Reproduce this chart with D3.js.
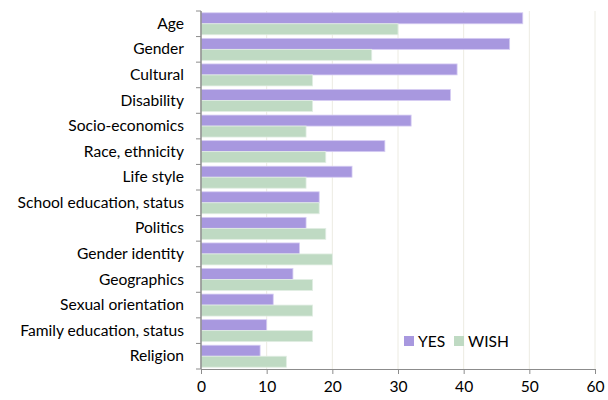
<!DOCTYPE html>
<html lang="en">
<head>
<meta charset="UTF-8">
<title>YES vs WISH</title>
<script src="https://cdnjs.cloudflare.com/ajax/libs/d3/7.8.5/d3.min.js"></script>
<style>
    body { margin: 0; background: #fff; }
    svg { display: block; font-family: Lato, "Open Sans", sans-serif; }
    .tick text { fill: #000; }
</style>
</head>
<body>
<svg id="chart" width="608" height="400"></svg>
<script>
    var categories = ["Age", "Gender", "Cultural", "Disability", "Socio-economics", "Race, ethnicity",
        "Life style", "School education, status", "Politics", "Gender identity", "Geographics",
        "Sexual orientation", "Family education, status", "Religion"];
    var yesValues  = [49, 47, 39, 38, 32, 28, 23, 18, 16, 15, 14, 11, 10, 9];
    var wishValues = [30, 26, 17, 17, 16, 19, 16, 18, 19, 20, 17, 17, 17, 13];
    var seriesNames = ["YES", "WISH"];
    var colors = ["#a898df", "#bfdac3"];
    var xTicks = [0, 10, 20, 30, 40, 50, 60];

    var margin = {left: 201, right: 13, top: 11, bottom: 31};
    var width = 608, height = 400;
    var fontSize = "15.6px";
    var svg = d3.select("#chart");

    var x = d3.scaleLinear().domain([0, 60]).range([margin.left, width - margin.right]);
    var y = d3.scaleBand().domain(categories).range([margin.top, height - margin.bottom]).paddingInner(0.14).paddingOuter(0.07);
    var y1 = d3.scaleBand().domain(seriesNames).range([0, y.bandwidth()]);

    // grid
    svg.append("g").selectAll("line")
        .data(xTicks.slice(1))
        .enter().append("line")
        .attr("x1", d => x(d)).attr("x2", d => x(d))
        .attr("y1", margin.top).attr("y2", height - margin.bottom)
        .attr("stroke", "#ecebe2").attr("stroke-width", 1);

    var rows = categories.map((c, i) => ({cat: c, vals: [yesValues[i], wishValues[i]]}));

    svg.append("g").selectAll("g")
        .data(rows)
        .enter().append("g")
        .attr("transform", d => "translate(0," + y(d.cat) + ")")
        .selectAll("rect")
        .data(d => d.vals.map((v, j) => ({name: seriesNames[j], v: v, j: j})))
        .enter().append("rect")
        .attr("x", x(0))
        .attr("y", d => y1(d.name))
        .attr("width", d => x(d.v) - x(0))
        .attr("height", y1.bandwidth())
        .attr("fill", d => colors[d.j])
        .attr("stroke", d => d.j == 0 ? "#d6cdf3" : "#e2eee4")
        .attr("stroke-width", 0.8);

    // axes
    var yAxis = svg.append("g")
        .attr("transform", "translate(" + x(0) + ",0)")
        .call(d3.axisLeft(y).tickSize(0).tickPadding(17));
    yAxis.select(".domain").remove();
    yAxis.selectAll("text").attr("font-size", fontSize).attr("font-family", "Lato, sans-serif");

    // y tick marks at band boundaries
    var bounds = d3.range(categories.length + 1).map(i => margin.top + i * (height - margin.bottom - margin.top) / categories.length);
    svg.append("g").selectAll("line")
        .data(bounds)
        .enter().append("line")
        .attr("x1", x(0) - 5).attr("x2", x(0))
        .attr("y1", d => d).attr("y2", d => d)
        .attr("stroke", "#8c8c8c");

    var xAxis = svg.append("g")
        .attr("transform", "translate(0," + (height - margin.bottom) + ")")
        .call(d3.axisBottom(x).tickValues(xTicks).tickSize(5).tickPadding(7));
    xAxis.select(".domain").attr("stroke", "#8c8c8c");
    xAxis.selectAll("line").attr("stroke", "#8c8c8c");
    xAxis.selectAll("text").attr("font-size", fontSize).attr("font-family", "Lato, sans-serif");

    svg.append("line")
        .attr("x1", x(0)).attr("x2", x(0))
        .attr("y1", margin.top).attr("y2", height - margin.bottom)
        .attr("stroke", "#8c8c8c").attr("stroke-width", 1.5);

    // legend
    var legend = svg.append("g").attr("transform", "translate(404,336)");
    var legendX = [0, 50];
    seriesNames.forEach((n, i) => {
        legend.append("rect").attr("x", legendX[i]).attr("y", 0).attr("width", 10).attr("height", 10).attr("fill", colors[i]);
        legend.append("text").attr("x", legendX[i] + 14).attr("y", 10.5).attr("font-size", fontSize).text(n);
    });
</script>
</body>
</html>
